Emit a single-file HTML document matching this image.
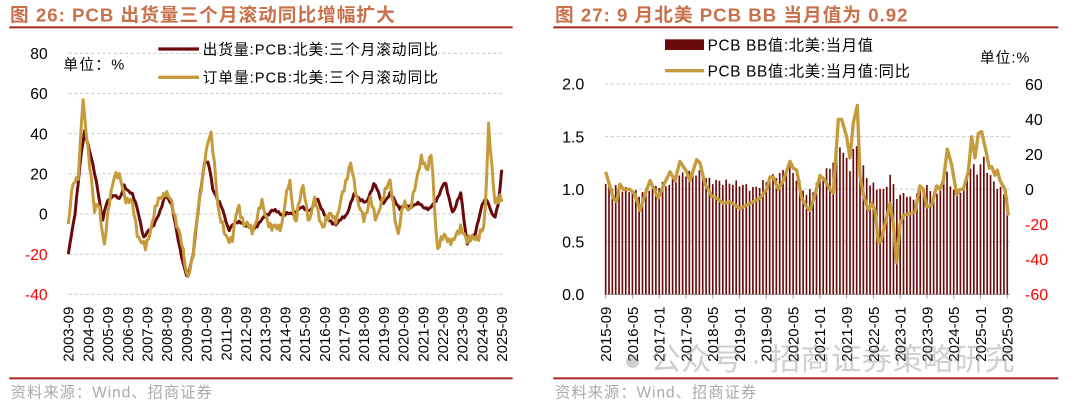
<!DOCTYPE html>
<html><head><meta charset="utf-8"><style>
html,body{margin:0;padding:0;background:#fff;width:1080px;height:404px;overflow:hidden}
svg{position:absolute;top:0}
text{font-family:"Liberation Sans","Noto Sans CJK SC",sans-serif}
</style></head><body>
<svg id="L" style="left:0" width="540" height="404" viewBox="0 0 1620 1212"></svg>
<svg id="R" style="left:540px" width="540" height="404" viewBox="0 0 1620 1212"></svg>
<script>
const NS="http://www.w3.org/2000/svg";
function el(s,tag,a,txt){const e=document.createElementNS(NS,tag);for(const k in a)e.setAttribute(k,a[k]);if(txt!=null)e.textContent=txt;s.appendChild(e);return e;}
const DR="#6b0a0a",GD="#c59b3c",TC="#c8714a",LC="#a52424";
function interp(pts,x){if(x<=pts[0][0])return pts[0][1];for(let i=0;i<pts.length-1;i++){if(x>=pts[i][0]&&x<=pts[i+1][0]){const t=(x-pts[i][0])/(pts[i+1][0]-pts[i][0]);return pts[i][1]+t*(pts[i+1][1]-pts[i][1]);}}return pts[pts.length-1][1];}
// LEFT
{const s=document.getElementById("L");
el(s,"text",{x:30,y:64,"font-size":56,"font-weight":"bold",fill:TC,"letter-spacing":3},"图 26:  PCB 出货量三个月滚动同比增幅扩大");
el(s,"rect",{x:28,y:79,width:1510,height:6,fill:LC});
el(s,"rect",{x:28,y:1132,width:1510,height:6,fill:LC});
el(s,"text",{x:32,y:1192,"font-size":46,fill:"#aaa","letter-spacing":3},"资料来源：Wind、招商证券");
const Y=v=>642-v*6.03;
[80,60,40,20,0,-20,-40].forEach(v=>{el(s,"line",{x1:205,x2:1505,y1:Y(v),y2:Y(v),stroke:"#ccc","stroke-width":3,"stroke-dasharray":"10 7"});
el(s,"text",{x:143,y:Y(v)+17,"font-size":47,"text-anchor":"end",fill:v<0?"#f00":"#000"},v);});
el(s,"text",{x:190,y:208,"font-size":44,"letter-spacing":4},"单位：%");
el(s,"line",{x1:475,x2:597,y1:147,y2:147,stroke:DR,"stroke-width":10});
el(s,"line",{x1:475,x2:597,y1:232,y2:232,stroke:GD,"stroke-width":10});
el(s,"text",{x:608,y:163,"font-size":44,"letter-spacing":3},"出货量:PCB:北美:三个月滚动同比");
el(s,"text",{x:608,y:248,"font-size":44,"letter-spacing":3},"订单量:PCB:北美:三个月滚动同比");
for(let i=0;i<23;i++){const x=205+59.1*i;el(s,"text",{transform:`translate(${x+16},920) rotate(-90)`,"font-size":45,"text-anchor":"end"},(2003+i)+"-09");}
const X=y=>205+(y-2003.67)*59.1;
const dk=[[2003.67,-20],[2004.0,0],[2004.3,28],[2004.5,41],[2004.8,30],[2005.2,10],[2005.4,-3],[2005.6,5],[2006.0,10],[2006.3,7],[2006.5,14],[2006.9,10],[2007.2,2],[2007.5,-12],[2008.0,-5],[2008.3,0],[2008.6,10],[2008.9,5],[2009.2,-10],[2009.5,-25],[2009.7,-32],[2010.0,-20],[2010.3,5],[2010.6,27],[2010.8,25],[2011.0,12],[2011.4,5],[2011.8,-8],[2012.0,-5],[2012.5,-4],[2013.0,-8],[2013.5,-3],[2014.0,2],[2014.5,0],[2015.0,0],[2015.5,3],[2016.0,2],[2016.3,8],[2016.8,-3],[2017.3,-5],[2017.8,0],[2018.2,10],[2018.8,5],[2019.2,16],[2019.6,5],[2020.0,10],[2020.5,3],[2021.0,4],[2021.5,5],[2022.0,2],[2022.4,8],[2022.8,16],[2023.2,0],[2023.6,11],[2023.9,-15],[2024.3,-10],[2024.7,5],[2024.9,8],[2025.3,-3],[2025.5,5],[2025.67,22]];
const gd=[[2003.67,-5],[2003.9,17],[2004.2,18],[2004.4,58],[2004.6,40],[2004.8,20],[2005.0,0],[2005.2,8],[2005.5,-17],[2005.8,10],[2006.0,20],[2006.3,17],[2006.6,8],[2006.9,5],[2007.2,-10],[2007.6,-18],[2008.0,0],[2008.3,7],[2008.6,12],[2008.9,5],[2009.3,-8],[2009.7,-32],[2010.0,-20],[2010.3,5],[2010.6,28],[2010.9,40],[2011.1,25],[2011.3,0],[2011.6,-10],[2012.0,-13],[2012.3,5],[2012.6,-5],[2013.0,-8],[2013.5,5],[2014.0,-8],[2014.5,-5],[2014.9,17],[2015.2,-5],[2015.6,15],[2015.9,-5],[2016.2,8],[2016.6,-8],[2017.0,2],[2017.3,-5],[2017.6,12],[2018.0,24],[2018.3,10],[2018.7,-5],[2019.0,10],[2019.3,-5],[2019.7,12],[2020.0,15],[2020.4,-10],[2020.7,5],[2021.0,3],[2021.3,13],[2021.6,30],[2021.9,20],[2022.1,31],[2022.4,-18],[2022.8,-10],[2023.2,-15],[2023.6,-5],[2023.9,-15],[2024.2,-10],[2024.5,-13],[2024.8,-5],[2025.0,45],[2025.3,5],[2025.6,10],[2025.67,6]];
function jitpts(pts,amp,seed){let out=[];for(let m=0;m<=264;m++){const y=2003.67+m/12;let v=interp(pts,y);if(m>0&&m<264)v+=amp*Math.sin(m*1.7+seed)*Math.cos(m*0.9);out.push(X(y).toFixed(1)+","+Y(v).toFixed(1));}return out.join(" ");}
el(s,"polyline",{points:jitpts(dk,1,1),fill:"none",stroke:DR,"stroke-width":9,"stroke-linejoin":"round"});
el(s,"polyline",{points:jitpts(gd,3,2),fill:"none",stroke:GD,"stroke-width":9,"stroke-linejoin":"round"});
}
// RIGHT
{const s=document.getElementById("R");
el(s,"text",{x:45,y:64,"font-size":56,"font-weight":"bold",fill:TC,"letter-spacing":3},"图 27:  9 月北美 PCB BB 当月值为 0.92");
el(s,"rect",{x:40,y:79,width:1515,height:6,fill:LC});
el(s,"rect",{x:40,y:1132,width:1515,height:6,fill:LC});
el(s,"text",{x:45,y:1192,"font-size":46,fill:"#aaa","letter-spacing":3},"资料来源：Wind、招商证券");
const YL=v=>883-v*315.5;
const YR=v=>568-v*5.25;
[2.0,1.5,1.0,0.5].forEach(v=>el(s,"line",{x1:195,x2:1410,y1:YL(v),y2:YL(v),stroke:"#ccc","stroke-width":3,"stroke-dasharray":"10 7"}));
[2.0,1.5,1.0,0.5,0.0].forEach(v=>el(s,"text",{x:133,y:YL(v)+17,"font-size":48,"text-anchor":"end"},v.toFixed(1)));
[60,40,20,0,-20,-40,-60].forEach(v=>el(s,"text",{x:1455,y:YR(v)+17,"font-size":48,fill:v<0?"#f00":"#000"},v));
el(s,"rect",{x:375,y:118,width:117,height:32,fill:DR});
el(s,"line",{x1:375,x2:492,y1:212,y2:212,stroke:GD,"stroke-width":10});
el(s,"text",{x:503,y:151,"font-size":46,"letter-spacing":2},"PCB BB值:北美:当月值");
el(s,"text",{x:503,y:230,"font-size":46,"letter-spacing":2},"PCB BB值:北美:当月值:同比");
el(s,"text",{x:1320,y:188,"font-size":44,"letter-spacing":3},"单位:%");
const labs=["2015-09","2016-05","2017-01","2017-09","2018-05","2019-01","2019-09","2020-05","2021-01","2021-09","2022-05","2023-01","2023-09","2024-05","2025-01","2025-09"];
labs.forEach((l,i)=>{const x=197+80.33*i;el(s,"line",{x1:x,x2:x,y1:883,y2:895,stroke:"#999","stroke-width":3});el(s,"text",{transform:`translate(${x+16},920) rotate(-90)`,"font-size":45,"text-anchor":"end"},l);});
el(s,"line",{x1:195,x2:1410,y1:883,y2:883,stroke:"#999","stroke-width":3});
const bb=[[197,1.05],[250,1.0],[300,0.95],[330,1.02],[390,1.05],[430,1.15],[480,1.15],[510,1.08],[600,1.05],[640,1.0],[690,1.1],[750,1.2],[780,1.05],[800,0.95],[820,1.0],[850,1.15],[870,1.2],[900,1.42],[930,1.2],[945,1.45],[960,1.3],[975,1.15],[990,1.05],[1010,1.02],[1030,0.98],[1050,1.12],[1060,1.05],[1075,0.88],[1090,0.98],[1110,0.9],[1130,0.95],[1160,1.02],[1190,0.92],[1220,1.15],[1240,0.98],[1270,1.0],[1295,1.25],[1310,1.15],[1330,1.3],[1345,1.15],[1365,1.05],[1380,1.0],[1405,0.92]];
for(let m=0;m<=120;m++){const x=197+m*10.04;let v=interp(bb,x)+0.03*Math.sin(m*2.3);if(m==120)v=0.92;el(s,"rect",{x:x-2.5,y:YL(v),width:5,height:883-YL(v),fill:DR});}
const yy=[[197,10],[220,-5],[230,-7],[240,3],[250,0],[270,0],[285,-3],[300,-12],[315,-3],[330,5],[355,-5],[370,2],[390,10],[405,5],[420,16],[440,10],[450,5],[470,17],[480,15],[495,3],[505,0],[515,-4],[530,-5],[550,-8],[570,-7],[600,-11],[620,-9],[640,-7],[660,-5],[680,0],[690,7],[700,7],[715,0],[730,5],[750,16],[760,12],[770,11],[785,-5],[800,-10],[810,-12],[825,-3],[840,8],[855,5],[870,0],[880,-2],[895,40],[905,40],[920,30],[930,18],[940,38],[952,48],[960,8],[970,-3],[985,-12],[995,-8],[1005,-12],[1015,-30],[1022,-30],[1035,-20],[1050,-8],[1060,-20],[1070,-42],[1080,-20],[1090,-15],[1105,-14],[1125,-13],[1140,2],[1150,0],[1160,-10],[1175,-9],[1190,2],[1200,0],[1210,5],[1222,23],[1235,14],[1250,-3],[1260,0],[1270,0],[1285,10],[1295,30],[1305,18],[1315,32],[1325,33],[1340,20],[1348,12],[1355,13],[1365,8],[1372,11],[1380,5],[1395,0],[1405,-15]];
el(s,"polyline",{points:yy.map(p=>p[0]+","+YR(p[1]).toFixed(1)).join(" "),fill:"none",stroke:GD,"stroke-width":10,"stroke-linejoin":"round"});
el(s,"text",{x:250,y:1110,"font-size":92,fill:"#888","fill-opacity":0.4},"● 公众号 · 招商证券策略研究");
}
</script>
</body></html>
